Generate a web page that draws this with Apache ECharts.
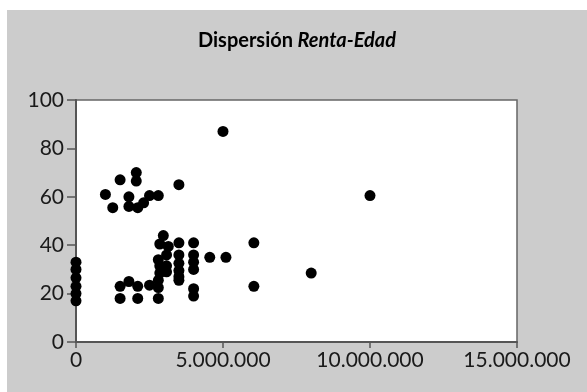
<!DOCTYPE html>
<html>
<head>
<meta charset="utf-8">
<script src="https://cdn.jsdelivr.net/npm/echarts@6/dist/echarts.min.js"></script>
<style>
  html, body { margin: 0; padding: 0; background: #fff; }
  #chart { position: absolute; left: 7px; top: 10px; width: 580px; height: 382px; }
</style>
</head>
<body>
<div id="chart"></div>
<script>
// renta (euros) y edad (años)
const renta = [
  0, 0, 0, 0, 0, 0,
  1000000, 1250000, 1500000, 1800000, 1800000, 2050000, 2050000, 2100000, 2300000, 2500000, 2800000, 3500000, 5000000, 10000000,
  1500000, 1500000, 1800000, 2100000, 2100000, 2500000,
  2800000, 2800000, 2800000, 2850000, 2850000, 2800000, 2850000, 2970000, 3080000, 3080000, 3080000, 3140000,
  3500000, 3500000, 3500000, 3500000, 3500000, 3500000,
  4000000, 4000000, 4000000, 4000000, 4000000, 4000000,
  4550000, 5100000, 6050000, 6050000, 8000000
]
const edad = [
  17, 20, 23, 26.5, 30, 33,
  61, 55.5, 67, 60, 56, 70, 66.5, 55.5, 57.5, 60.5, 60.5, 65, 87, 60.5,
  23, 18, 25, 23, 18, 23.5,
  18, 22.5, 25.5, 28.5, 31.5, 34, 40.5, 44, 36, 31.5, 29, 39.5,
  41, 36, 32.5, 29.5, 27, 25.5,
  41, 36, 33, 30, 22, 19,
  35, 35, 41, 23, 28.5
]
const xTicks = [0, 5000000, 10000000, 15000000]
const yTicks = [0, 20, 40, 60, 80, 100]

function miles(v) {
  return String(v).replace(/\B(?=(\d{3})+(?!\d))/g, '.')
}

let chart = echarts.init(document.getElementById('chart'))

let options = {
  backgroundColor: '#cccccc',
  animation: false,
  textStyle: { fontFamily: 'Lato' },
  title: {
    text: '{a|Dispersión} {b|Renta-Edad}',
    left: 'center',
    top: 16,
    textStyle: {
      rich: {
        a: { fontFamily: 'Lato', fontSize: 20, fontWeight: 'bold', color: '#000' },
        b: { fontFamily: 'Lato', fontSize: 20, fontWeight: 'bold', fontStyle: 'italic', color: '#000' }
      }
    }
  },
  grid: {
    left: 69,
    right: 70,
    top: 90,
    bottom: 50,
    show: true,
    backgroundColor: '#ffffff',
    borderColor: '#666',
    borderWidth: 1.5
  },
  xAxis: {
    type: 'value',
    min: xTicks[0],
    max: xTicks[xTicks.length - 1],
    interval: 5000000,
    splitLine: { show: false },
    axisLine: { show: true, onZero: false, lineStyle: { color: '#555', width: 2 } },
    axisTick: { show: true, length: 6, lineStyle: { color: '#555', width: 1.5 } },
    axisLabel: {
      color: '#1a1a1a', fontSize: 21, margin: 8,
      formatter: v => miles(v)
    }
  },
  yAxis: {
    type: 'value',
    min: yTicks[0],
    max: yTicks[yTicks.length - 1],
    interval: 20,
    splitLine: { show: false },
    axisLine: { show: true, onZero: false, lineStyle: { color: '#555', width: 2 } },
    axisTick: { show: true, length: 9, lineStyle: { color: '#555', width: 1.5 } },
    axisLabel: { color: '#1a1a1a', fontSize: 21, margin: 12 }
  },
  series: [{
    type: 'scatter',
    data: renta.map((r, i) => [r, edad[i]]),
    symbol: 'circle',
    symbolSize: 11,
    itemStyle: { color: '#000', opacity: 1 }
  }]
}
options && chart.setOption(options)
</script>
</body>
</html>
